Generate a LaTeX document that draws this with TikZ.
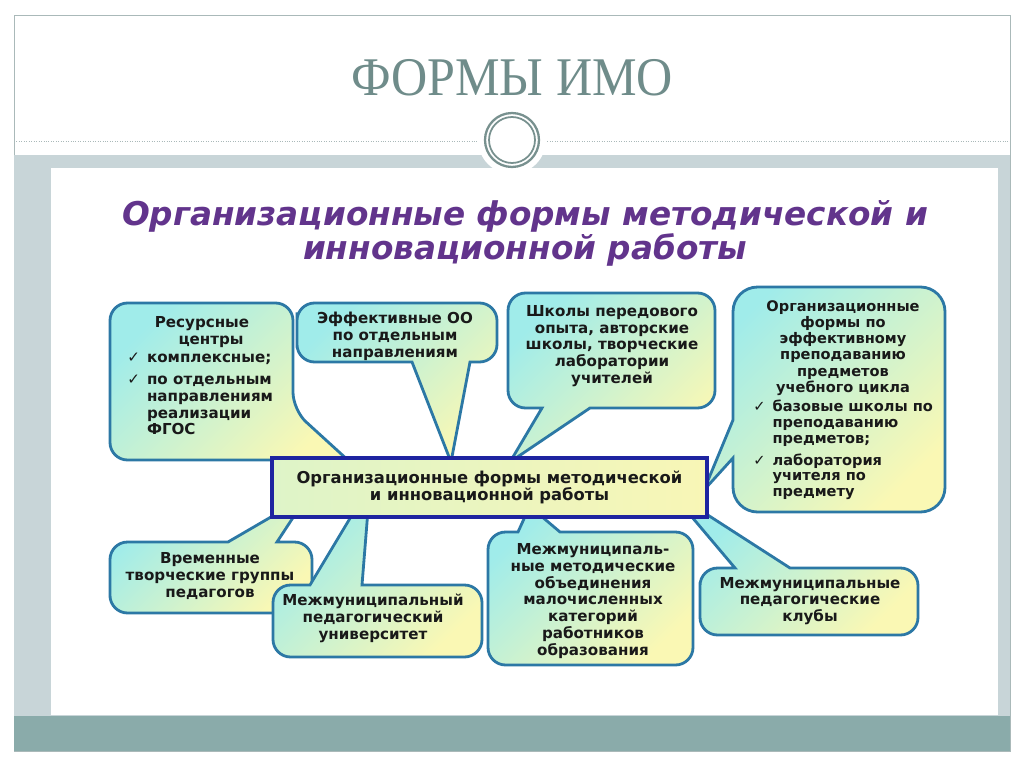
\documentclass[tikz,border=0pt]{standalone}
\usepackage{fontspec}
\usepackage{graphicx}
\setmainfont{Liberation Serif}
\newfontfamily\bubfont{DejaVu Sans}
\usepackage{tikz}
\usepackage{xcolor}
\definecolor{titlegray}{RGB}{111,140,138}
\definecolor{bandgray}{RGB}{200,213,216}
\definecolor{bandteal}{RGB}{138,171,170}
\definecolor{framegray}{RGB}{170,185,185}
\definecolor{ringgray}{RGB}{120,145,143}
\definecolor{headpurple}{RGB}{98,52,140}
\definecolor{bubline}{RGB}{44,120,165}
\definecolor{bubcyan}{RGB}{160,236,234}
\definecolor{bubyellow}{RGB}{250,248,180}
\definecolor{hubline}{RGB}{30,36,160}
\definecolor{hubleft}{RGB}{222,244,200}
\definecolor{hubright}{RGB}{248,246,182}
\definecolor{textdark}{RGB}{25,25,25}
\newcommand\chk{{\bubfont\mdseries ✓}}

\begin{document}
\begin{tikzpicture}[x=0.02cm, y=-0.02cm,
  bubble/.style={draw=bubline, line width=1.6pt, top color=bubcyan, bottom color=bubyellow, shading angle=45, rounded corners=10pt},
  btext/.style={font=\bubfont\bfseries\fontsize{8.6}{9.6}\selectfont, text=textdark, align=center, inner sep=0pt},
  hubbox/.style={draw=hubline, line width=2.2pt, left color=hubleft, right color=hubright, minimum width=8.7cm, minimum height=1.18cm, inner sep=0pt}]
  \useasboundingbox (0,0) rectangle (1024,767);
  \fill[white] (0,0) rectangle (1024,767);
  \draw[framegray] (14,15) rectangle (1010,751);
  \fill[bandgray] (14,155) rectangle (1010,716);
  \fill[white] (51,168) rectangle (998,715);
  \fill[bandteal] (14,716) rectangle (1010,751);
  \draw[framegray, densely dotted] (14,141) -- (480,141);
  \draw[framegray, densely dotted] (545,141) -- (1010,141);
  \fill[white] (512,140) circle (0.68cm);
  \draw[ringgray, line width=1.3pt] (512,140) circle (0.54cm);
  \draw[ringgray, line width=1pt] (512,140) circle (0.46cm);
  \node[titlegray, font=\fontsize{31}{36}\selectfont] (title) at (512,78) {\scalebox{0.92}[1]{ФОРМЫ ИМО}};
  \node[headpurple, align=center, font=\bubfont\bfseries\itshape\fontsize{18.6}{19.4}\selectfont] (subtitle) at (525,233)
    {Организационные формы методической и\\инновационной работы};

  \draw[bubble] (110,380) -- (110,303) -- (293,303) -- (293,410) [sharp corners] -- (350,462) [rounded corners=10pt] -- (280,460) -- (110,460) -- cycle;
  \node[btext] (res) at (202,332) {Ресурсные\\\hspace{1.2em}центры};
  \node[btext, anchor=north west, align=left] (resitems) at (127,350)
    {\begin{tabular}{@{}l@{\hspace{4pt}}l@{}}\chk & комплексные;\\[3pt] \chk & по отдельным\\ & направлениям\\ & реализации\\ & ФГОС\end{tabular}};

  \draw[bubble] (297,330) -- (297,303) -- (497,303) -- (497,362) [sharp corners] -- (470,362) -- (451,462) -- (412,362) [rounded corners=10pt] -- (297,362) -- cycle;
  \node[btext] (eff) at (395,336) {Эффективные ОО\\по отдельным\\направлениям};

  \draw[bubble] (508,350) -- (508,293) -- (715,293) -- (715,408) [sharp corners] -- (590,408) -- (510,462) -- (542,408) [rounded corners=10pt] -- (508,408) -- cycle;
  \node[btext] (shk) at (612,346) {Школы передового\\опыта, авторские\\школы, творческие\\лаборатории\\учителей};

  \draw[bubble, rounded corners=14pt] (840,287) -- (945,287) -- (945,512) -- (733,512) [sharp corners] -- (733,458) -- (704,490) -- (733,420) [rounded corners=14pt] -- (733,287) -- cycle;
  \node[btext, font=\bubfont\bfseries\fontsize{8.3}{9.2}\selectfont] (org) at (843,348)
    {Организационные\\формы по\\эффективному\\преподаванию\\предметов\\учебного цикла};
  \node[btext, anchor=north west, align=left, font=\bubfont\bfseries\fontsize{8.3}{9.0}\selectfont] (orgitems) at (753,400)
    {\begin{tabular}{@{}l@{\hspace{4pt}}l@{}}\chk & базовые школы по\\ & преподаванию\\ & предметов;\\[3pt] \chk & лаборатория\\ & учителя по\\ & предмету\end{tabular}};

  \draw[bubble] (110,580) -- (110,542) [sharp corners] -- (228,542) -- (283,510) -- (298,510) -- (277,542) [rounded corners=10pt] -- (312,542) -- (312,613) -- (110,613) -- cycle;
  \node[btext] (tmp) at (210,576) {Временные\\творческие группы\\педагогов};

  \draw[bubble] (273,620) -- (273,585) [sharp corners] -- (310,585) -- (355,510) -- (368,510) -- (362,585) [rounded corners=10pt] -- (482,585) -- (482,657) -- (273,657) -- cycle;
  \node[btext] (uni) at (373,618) {Межмуниципальный\\педагогический\\университет};

  \draw[bubble] (488,600) -- (488,532) [sharp corners] -- (518,532) -- (528,510) -- (534,510) -- (560,532) [rounded corners=10pt] -- (693,532) -- (693,665) -- (488,665) -- cycle;
  \node[btext] (met) at (593,601) {Межмуниципаль-\\ные методические\\объединения\\малочисленных\\категорий\\работников\\образования};

  \draw[bubble] (700,600) -- (700,568) [sharp corners] -- (735,568) -- (686,510) -- (700,510) -- (790,568) [rounded corners=10pt] -- (918,568) -- (918,635) -- (700,635) -- cycle;
  \node[btext] (clb) at (810,601) {Межмуниципальные\\педагогические\\клубы};

  \node[hubbox, btext, font=\bubfont\bfseries\fontsize{9.3}{10}\selectfont] (hub) at (489.5,487.5) {Организационные формы методической\\и инновационной работы};
\end{tikzpicture}
\end{document}
